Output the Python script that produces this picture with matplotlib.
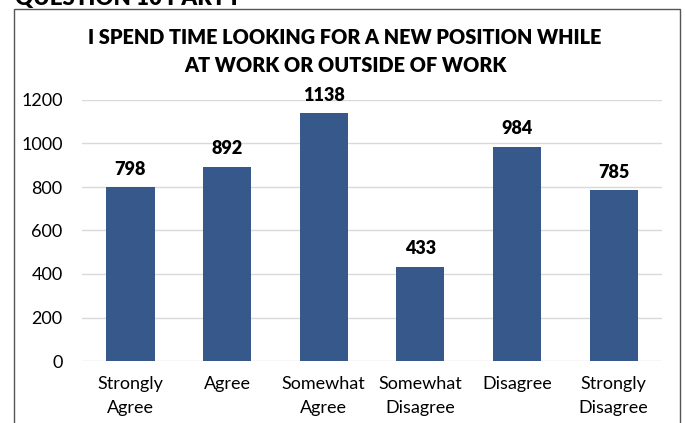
import matplotlib
matplotlib.use("Agg")
import matplotlib.pyplot as plt
from matplotlib.patches import Rectangle
from matplotlib import font_manager

categories = ["Strongly\nAgree", "Agree", "Somewhat\nAgree", "Somewhat\nDisagree", "Disagree", "Strongly\nDisagree"]
values = [798, 892, 1138, 433, 984, 785]
yticks = [0, 200, 400, 600, 800, 1000, 1200]
title_lines = ["I SPEND TIME LOOKING FOR A NEW POSITION WHILE", "AT WORK OR OUTSIDE OF WORK"]
header = "QUESTION 10 PART I"

bar_color = "#36588a"
font = "Lato"
names = {f.name for f in font_manager.fontManager.ttflist}
title_font = "Liberation Sans Narrow" if "Liberation Sans Narrow" in names else "Lato"

fig = plt.figure(figsize=(6.85, 4.23), dpi=100)
fig.patch.set_facecolor("white")

# outer border box
fig.patches.append(Rectangle((14/685, -0.05), (680-14)/685, 1 - 9/423 + 0.05,
                             transform=fig.transFigure, fill=False,
                             edgecolor="#555555", linewidth=1.0))

# cropped header text at top
fig.text(15/685, 1 - 5/423, header, ha="left", va="baseline",
         fontsize=16, fontweight="heavy", family=title_font, color="black")

ax = fig.add_axes([82/685, 1 - 361/423, 580/685, (361-100)/423])
x = list(range(len(categories)))
ax.bar(x, values, width=0.5, color=bar_color, zorder=3)
ax.set_xlim(-0.5, len(categories) - 0.5)
ax.set_ylim(0, 1200)
ax.set_yticks(yticks)
ax.set_yticklabels([str(t) for t in yticks], family=font, fontsize=13)
ax.set_xticks(x)
ax.set_xticklabels(categories, family=font, fontsize=13, linespacing=1.6)
ax.tick_params(axis="both", length=0)
ax.tick_params(axis="y", pad=14)
ax.tick_params(axis="x", pad=11)
ax.grid(axis="y", color="#d9d9d9", linewidth=1.0, zorder=0)
for s in ax.spines.values():
    s.set_visible(False)

for xi, v in zip(x, values):
    ax.annotate(str(v), (xi, v), xytext=(0, 7), textcoords="offset points",
                ha="center", va="bottom", fontsize=13, fontweight="heavy", family=font)

# title lines, fitted to the reference width
t1 = fig.text(345/685, 1 - 38/423, title_lines[0], ha="center", va="center", fontsize=15,
              fontweight="heavy", family=title_font)
t2 = fig.text(345/685, 1 - 65/423, title_lines[1], ha="center", va="center", fontsize=15,
              fontweight="heavy", family=title_font)
fig.canvas.draw()
r = fig.canvas.get_renderer()
w = t1.get_window_extent(r).width
fs = 15 * 517 / w
t1.set_fontsize(fs)
t2.set_fontsize(fs)

fig.savefig("out.png", dpi=100)
